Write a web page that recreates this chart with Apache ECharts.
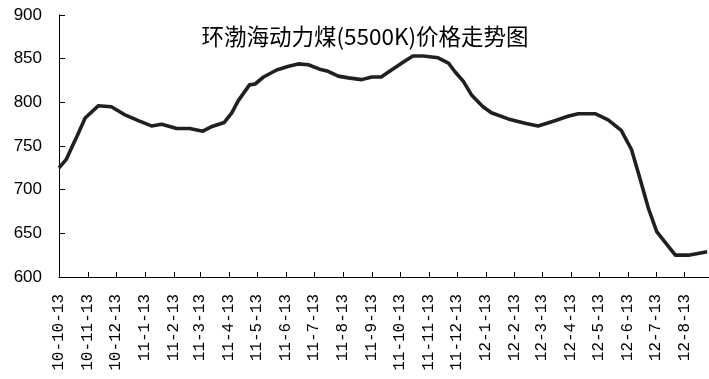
<!DOCTYPE html>
<html>
<head>
<meta charset="utf-8">
<script src="https://cdn.jsdelivr.net/npm/echarts@6/dist/echarts.min.js"></script>
<style>
html,body{margin:0;padding:0;background:#fff;}
#chart{width:709px;height:379px;}
</style>
</head>
<body>
<div id="chart"></div>
<script>
// Axis span (daily category axis) and labelled month ticks (the 13th of each month)
const axisStart = '2010-10-13';
const axisEnd = '2012-09-08';
const tickDay = 13;

const obsDates = [
  '2010-10-13','2010-10-21','2010-10-27','2010-11-02','2010-11-10','2010-11-24','2010-12-08','2010-12-22',
  '2011-01-06','2011-01-20','2011-01-31','2011-02-16','2011-03-02','2011-03-16','2011-03-25','2011-04-08',
  '2011-04-16','2011-04-23','2011-05-05','2011-05-11','2011-05-20','2011-06-03','2011-06-15','2011-06-26',
  '2011-07-07','2011-07-19','2011-07-27','2011-08-08','2011-08-19','2011-09-02','2011-09-13','2011-09-23',
  '2011-10-04','2011-10-18','2011-10-27','2011-11-07','2011-11-23','2011-12-04','2011-12-11','2011-12-20',
  '2011-12-29','2012-01-10','2012-01-19','2012-02-06','2012-02-24','2012-03-09','2012-03-27','2012-04-10',
  '2012-04-21','2012-05-09','2012-05-23','2012-06-06','2012-06-17','2012-06-26','2012-07-05','2012-07-14',
  '2012-07-25','2012-08-03','2012-08-17','2012-09-06'
];
const obsPrices = [
  725,735,749,763,782,796,795,786,
  779,773,775,770,770,767,772,777,
  788,802,820,821,829,837,841,844,
  843,838,836,830,828,826,829,829,
  837,847,853,853,851,845,835,824,
  808,795,788,781,776,773,779,784,
  787,787,780,768,746,713,679,652,
  637,625,625,629
];
const yTicks = [600, 650, 700, 750, 800, 850, 900];
const titleText = '环渤海动力煤(5500K)价格走势图';

function iso(d){
  const m = d.getUTCMonth()+1, day = d.getUTCDate();
  return d.getUTCFullYear()+'-'+(m<10?'0':'')+m+'-'+(day<10?'0':'')+day;
}
const categories = [];
{
  const s = new Date(axisStart+'T00:00:00Z'), e = new Date(axisEnd+'T00:00:00Z');
  for (let t = s.getTime(); t <= e.getTime(); t += 86400000) categories.push(iso(new Date(t)));
}
function isTick(v){ return parseInt(v.slice(8),10) === tickDay; }
function fmt(v){
  const p = v.split('-');
  return p[0].slice(2)+'-'+parseInt(p[1],10)+'-'+parseInt(p[2],10);
}
const seriesData = obsDates.map((d,i)=>[d, obsPrices[i]]);

const chart = echarts.init(document.getElementById('chart'), null, {renderer:'canvas'});
chart.setOption({
  backgroundColor:'#ffffff',
  animation:false,
  title:{
    text:titleText,
    left:360, top:20, textAlign:'center',
    textStyle:{fontFamily:'Noto Sans CJK SC', fontSize:22.5, fontWeight:'normal', color:'#000'}
  },
  grid:{left:59, right:0, top:15, bottom:102, containLabel:false},
  xAxis:{
    type:'category',
    data:categories,
    boundaryGap:false,
    axisLine:{show:true, lineStyle:{color:'#000', width:1}},
    axisTick:{show:true, inside:true, length:5, interval:(i,v)=>isTick(v), lineStyle:{color:'#000'}},
    axisLabel:{
      interval:(i,v)=>isTick(v), rotate:90, margin:17, hideOverlap:false,
      formatter:fmt, color:'#000', fontFamily:'Liberation Mono', fontSize:16
    },
    splitLine:{show:false}
  },
  yAxis:{
    type:'value', min:yTicks[0], max:yTicks[yTicks.length-1], interval:50,
    axisLine:{show:true, lineStyle:{color:'#000', width:1}},
    axisTick:{show:true, inside:true, length:6, lineStyle:{color:'#000'}},
    axisLabel:{margin:17, color:'#000', fontFamily:'Liberation Sans', fontSize:17},
    splitLine:{show:false}
  },
  series:[{
    type:'line',
    data:seriesData,
    showSymbol:false,
    symbol:'none',
    lineStyle:{color:'#231f20', width:3.6, join:'round'},
    smooth:false
  }]
});
</script>
</body>
</html>
